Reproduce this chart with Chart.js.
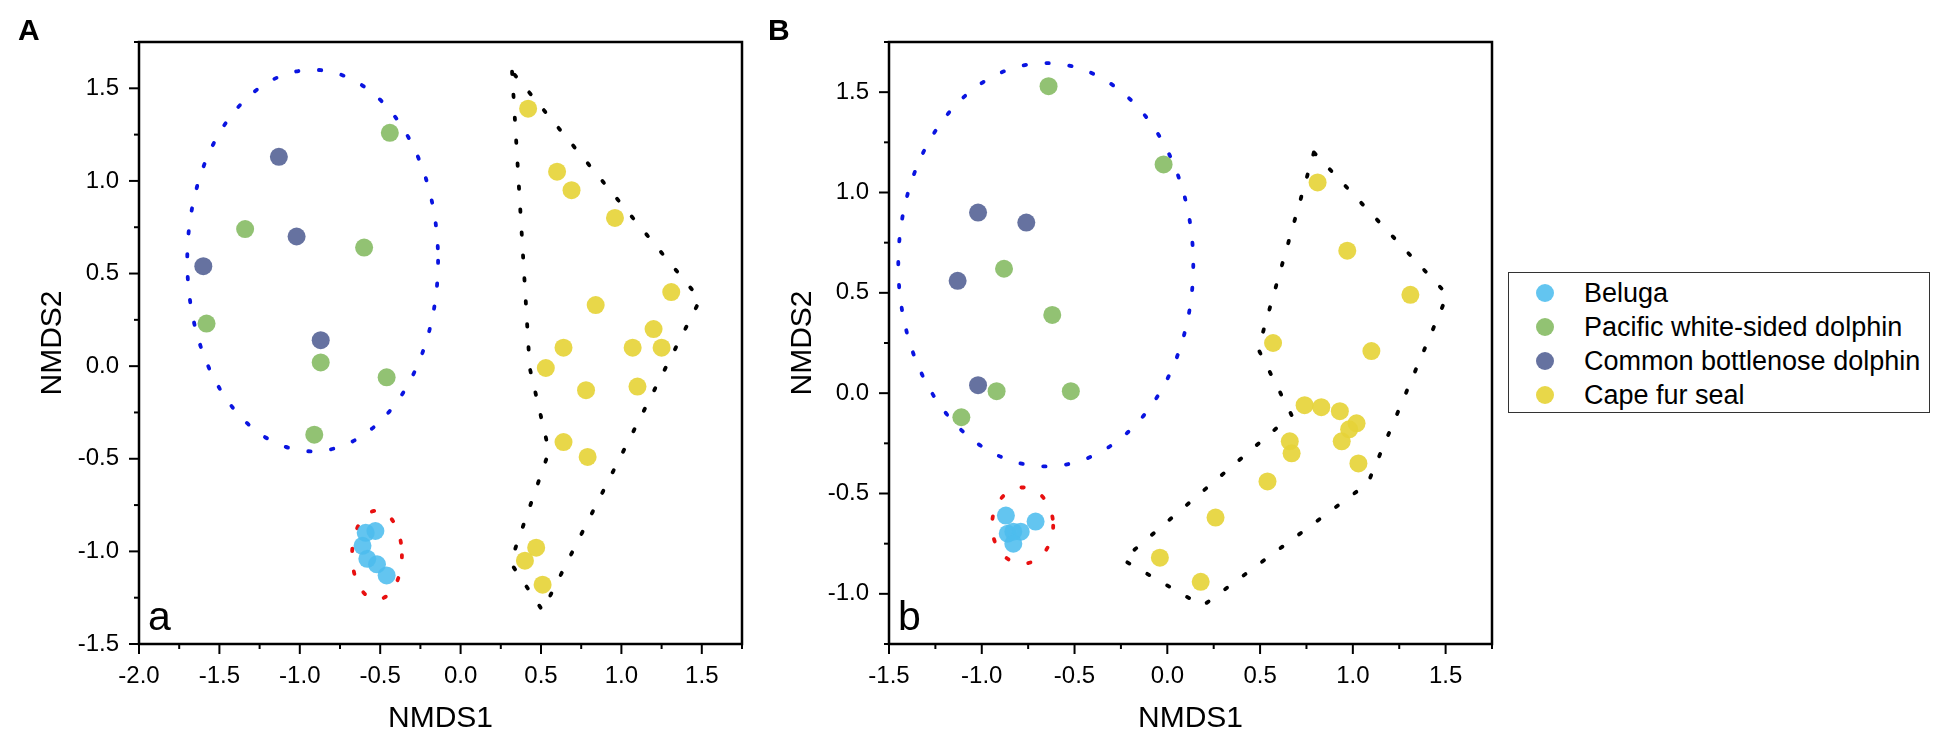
<!DOCTYPE html>
<html>
<head>
<meta charset="utf-8">
<script src="https://cdn.jsdelivr.net/npm/chart.js@4.4.1/dist/chart.umd.min.js"></script>
<style>
  body { margin: 0; background: #fff; width: 1937px; height: 737px; overflow: hidden; position: relative; font-family: "Liberation Sans", Arial, sans-serif; }
  .panel { position: absolute; top: 0; width: 760px; height: 737px; }
  #panelA { left: 0; }
  #panelB { left: 750px; }
  #legend { position: absolute; left: 1508px; top: 272px; width: 422px; height: 141px; border: 1px solid #333; box-sizing: border-box; padding-top: 3px; background: #fff; }
  .row { display: flex; align-items: center; height: 34px; font-size: 27px; color: #000; white-space: nowrap; }
  .dot { width: 18px; height: 18px; border-radius: 50%; margin-left: 27px; margin-right: 30px; flex: none; }
</style>
</head>
<body>
<div class="panel" id="panelA"><canvas id="chartA"></canvas></div>
<div class="panel" id="panelB"><canvas id="chartB"></canvas></div>
<div id="legend"></div>
<script>
// species and their colours
const species = ["Beluga", "Pacific white-sided dolphin", "Common bottlenose dolphin", "Cape fur seal"];
const colors = ["rgba(77,189,238,0.88)", "rgba(140,191,108,0.95)", "rgba(94,106,155,0.95)", "rgba(230,212,58,0.92)"];

// panel A (NMDS1, NMDS2)
const belugaA = [[-0.53, -0.89], [-0.59, -0.90], [-0.61, -0.97], [-0.58, -1.04], [-0.52, -1.07], [-0.46, -1.13]];
const pacificA = [[-0.44, 1.26], [-1.34, 0.74], [-0.60, 0.64], [-1.58, 0.23], [-0.87, 0.02], [-0.46, -0.06], [-0.91, -0.37]];
const bottlenoseA = [[-1.13, 1.13], [-1.02, 0.70], [-1.60, 0.54], [-0.87, 0.14]];
const sealA = [[0.42, 1.39], [0.60, 1.05], [0.69, 0.95], [0.96, 0.80], [1.31, 0.40], [0.84, 0.33], [1.20, 0.20], [1.07, 0.10], [1.25, 0.10], [0.64, 0.10], [0.53, -0.01], [1.10, -0.11], [0.78, -0.13], [0.64, -0.41], [0.79, -0.49], [0.47, -0.98], [0.40, -1.05], [0.51, -1.18]];
const hullA = [[0.32, 1.59], [0.43, -0.01], [0.55, -0.46], [0.31, -1.06], [0.51, -1.32], [1.49, 0.36], [0.32, 1.59]];
// ellipse outlines: centre x, centre y, radius x, radius y (data units)
const blueRingA = [-0.92, 0.57, 0.78, 1.03];
const redRingA = [-0.52, -1.02, 0.155, 0.24];

// panel B
const belugaB = [[-0.87, -0.61], [-0.71, -0.64], [-0.86, -0.70], [-0.83, -0.69], [-0.79, -0.69], [-0.83, -0.75]];
const pacificB = [[-0.64, 1.53], [-0.02, 1.14], [-0.88, 0.62], [-0.62, 0.39], [-0.92, 0.01], [-0.52, 0.01], [-1.11, -0.12]];
const bottlenoseB = [[-1.02, 0.90], [-0.76, 0.85], [-1.13, 0.56], [-1.02, 0.04]];
const sealB = [[0.81, 1.05], [0.97, 0.71], [1.31, 0.49], [0.57, 0.25], [1.10, 0.21], [0.74, -0.06], [0.83, -0.07], [0.93, -0.09], [1.02, -0.15], [0.98, -0.18], [0.94, -0.24], [0.66, -0.24], [0.67, -0.30], [1.03, -0.35], [0.54, -0.44], [0.26, -0.62], [-0.04, -0.82], [0.18, -0.94]];
const hullB = [[0.79, 1.20], [0.49, 0.22], [0.67, -0.11], [-0.24, -0.83], [0.19, -1.06], [1.08, -0.45], [1.51, 0.49], [0.79, 1.20]];
const blueRingB = [-0.655, 0.64, 0.795, 1.005];
const redRingB = [-0.78, -0.66, 0.165, 0.19];

// axis ranges
const xRangeA = [-2.0, 1.75];
const yRangeA = [-1.5, 1.75];
const xRangeB = [-1.5, 1.75];
const yRangeB = [-1.25, 1.75];

Chart.defaults.font.family = "'Liberation Sans', Arial, sans-serif";
Chart.defaults.color = "#000";

const toXY = (arr) => arr.map((p) => ({ x: p[0], y: p[1] }));
const isMajor = (v) => Math.round(v * 4) % 2 === 0;
const tickLabel = (v) => (isMajor(v) ? (Math.round(v * 4) / 4).toFixed(1) : "");
const dotted = [2.4, 20.6];

const framePlugin = {
  id: "frame",
  beforeDatasetsDraw(chart, args, opts) {
    const { ctx, chartArea: a, scales: { x, y } } = chart;
    ctx.save();
    ctx.beginPath();
    ctx.rect(a.left, a.top, a.width, a.height);
    ctx.clip();
    ctx.lineWidth = 3.8;
    ctx.lineCap = "round";
    ctx.setLineDash(dotted);
    opts.rings.forEach(([r, color]) => {
      const cx = x.getPixelForValue(r[0]);
      const cy = y.getPixelForValue(r[1]);
      const rx = Math.abs(x.getPixelForValue(r[0] + r[2]) - cx);
      const ry = Math.abs(y.getPixelForValue(r[1] + r[3]) - cy);
      ctx.strokeStyle = color;
      ctx.beginPath();
      ctx.ellipse(cx, cy, rx, ry, 0, 0, Math.PI * 2);
      ctx.stroke();
    });
    ctx.restore();
  },
  afterDraw(chart, args, opts) {
    const { ctx, chartArea: a, scales: { x, y } } = chart;
    ctx.save();
    ctx.strokeStyle = "#000";
    ctx.lineWidth = 2.5;
    ctx.strokeRect(a.left, a.top, a.width, a.height);
    ctx.lineWidth = 2;
    x.ticks.forEach((t) => {
      const px = x.getPixelForValue(t.value);
      const len = isMajor(t.value) ? 10 : 5;
      ctx.beginPath();
      ctx.moveTo(px, a.bottom);
      ctx.lineTo(px, a.bottom + len);
      ctx.stroke();
    });
    y.ticks.forEach((t) => {
      const py = y.getPixelForValue(t.value);
      const len = isMajor(t.value) ? 10 : 5;
      ctx.beginPath();
      ctx.moveTo(a.left, py);
      ctx.lineTo(a.left - len, py);
      ctx.stroke();
    });
    ctx.fillStyle = "#000";
    ctx.textBaseline = "alphabetic";
    ctx.textAlign = "left";
    ctx.font = "bold 30px 'Liberation Sans', Arial, sans-serif";
    ctx.fillText(opts.panel, 18, 40);
    ctx.font = "41px 'Liberation Sans', Arial, sans-serif";
    ctx.fillText(opts.tag, a.left + 9, a.bottom - 14);
    ctx.restore();
  },
};

function makeChart(id, groups, hull, xRange, yRange, rings, panel, tag) {
  const datasets = groups.map((g, i) => ({
    label: species[i],
    data: toXY(g),
    backgroundColor: colors[i],
    borderWidth: 0,
    pointRadius: 9,
    pointHoverRadius: 9,
  }));
  datasets.push({
    label: "hull",
    data: toXY(hull),
    showLine: true,
    borderColor: "#000",
    borderWidth: 3.8,
    borderDash: dotted,
    borderCapStyle: "round",
    pointRadius: 0,
    fill: false,
    tension: 0,
  });
  return new Chart(document.getElementById(id), {
    type: "scatter",
    data: { datasets },
    plugins: [framePlugin],
    options: {
      responsive: true,
      maintainAspectRatio: false,
      animation: false,
      events: [],
      layout: { padding: { left: 20, right: 16, top: 42, bottom: 0 } },
      plugins: {
        legend: { display: false },
        tooltip: { enabled: false },
        frame: { rings, panel, tag },
      },
      scales: {
        x: {
          type: "linear",
          min: xRange[0],
          max: xRange[1],
          afterFit: (s) => { s.height = 93; },
          grid: { display: false, drawTicks: false },
          border: { display: false },
          ticks: { stepSize: 0.25, autoSkip: false, maxRotation: 0, padding: 18, font: { size: 24 }, color: "#000", callback: tickLabel },
          title: { display: true, text: "NMDS1", font: { size: 30, lineHeight: 1 }, color: "#000", padding: { top: 0, bottom: 3 } },
        },
        y: {
          type: "linear",
          min: yRange[0],
          max: yRange[1],
          afterFit: (s) => { s.width = 119; },
          grid: { display: false, drawTicks: false },
          border: { display: false },
          ticks: { stepSize: 0.25, autoSkip: false, padding: 20, font: { size: 24 }, color: "#000", callback: tickLabel },
          title: { display: true, text: "NMDS2", font: { size: 30, lineHeight: 1 }, color: "#000", padding: { top: 18, bottom: 0 } },
        },
      },
    },
  });
}

makeChart("chartA", [belugaA, pacificA, bottlenoseA, sealA], hullA, xRangeA, yRangeA,
  [[blueRingA, "#0a14e0"], [redRingA, "#e81010"]], "A", "a");
makeChart("chartB", [belugaB, pacificB, bottlenoseB, sealB], hullB, xRangeB, yRangeB,
  [[blueRingB, "#0a14e0"], [redRingB, "#e81010"]], "B", "b");

// legend box
const legendEl = document.getElementById("legend");
species.forEach((name, i) => {
  const row = document.createElement("div");
  row.className = "row";
  const dot = document.createElement("span");
  dot.className = "dot";
  dot.style.background = colors[i];
  const label = document.createElement("span");
  label.textContent = name;
  row.appendChild(dot);
  row.appendChild(label);
  legendEl.appendChild(row);
});
</script>
</body>
</html>
